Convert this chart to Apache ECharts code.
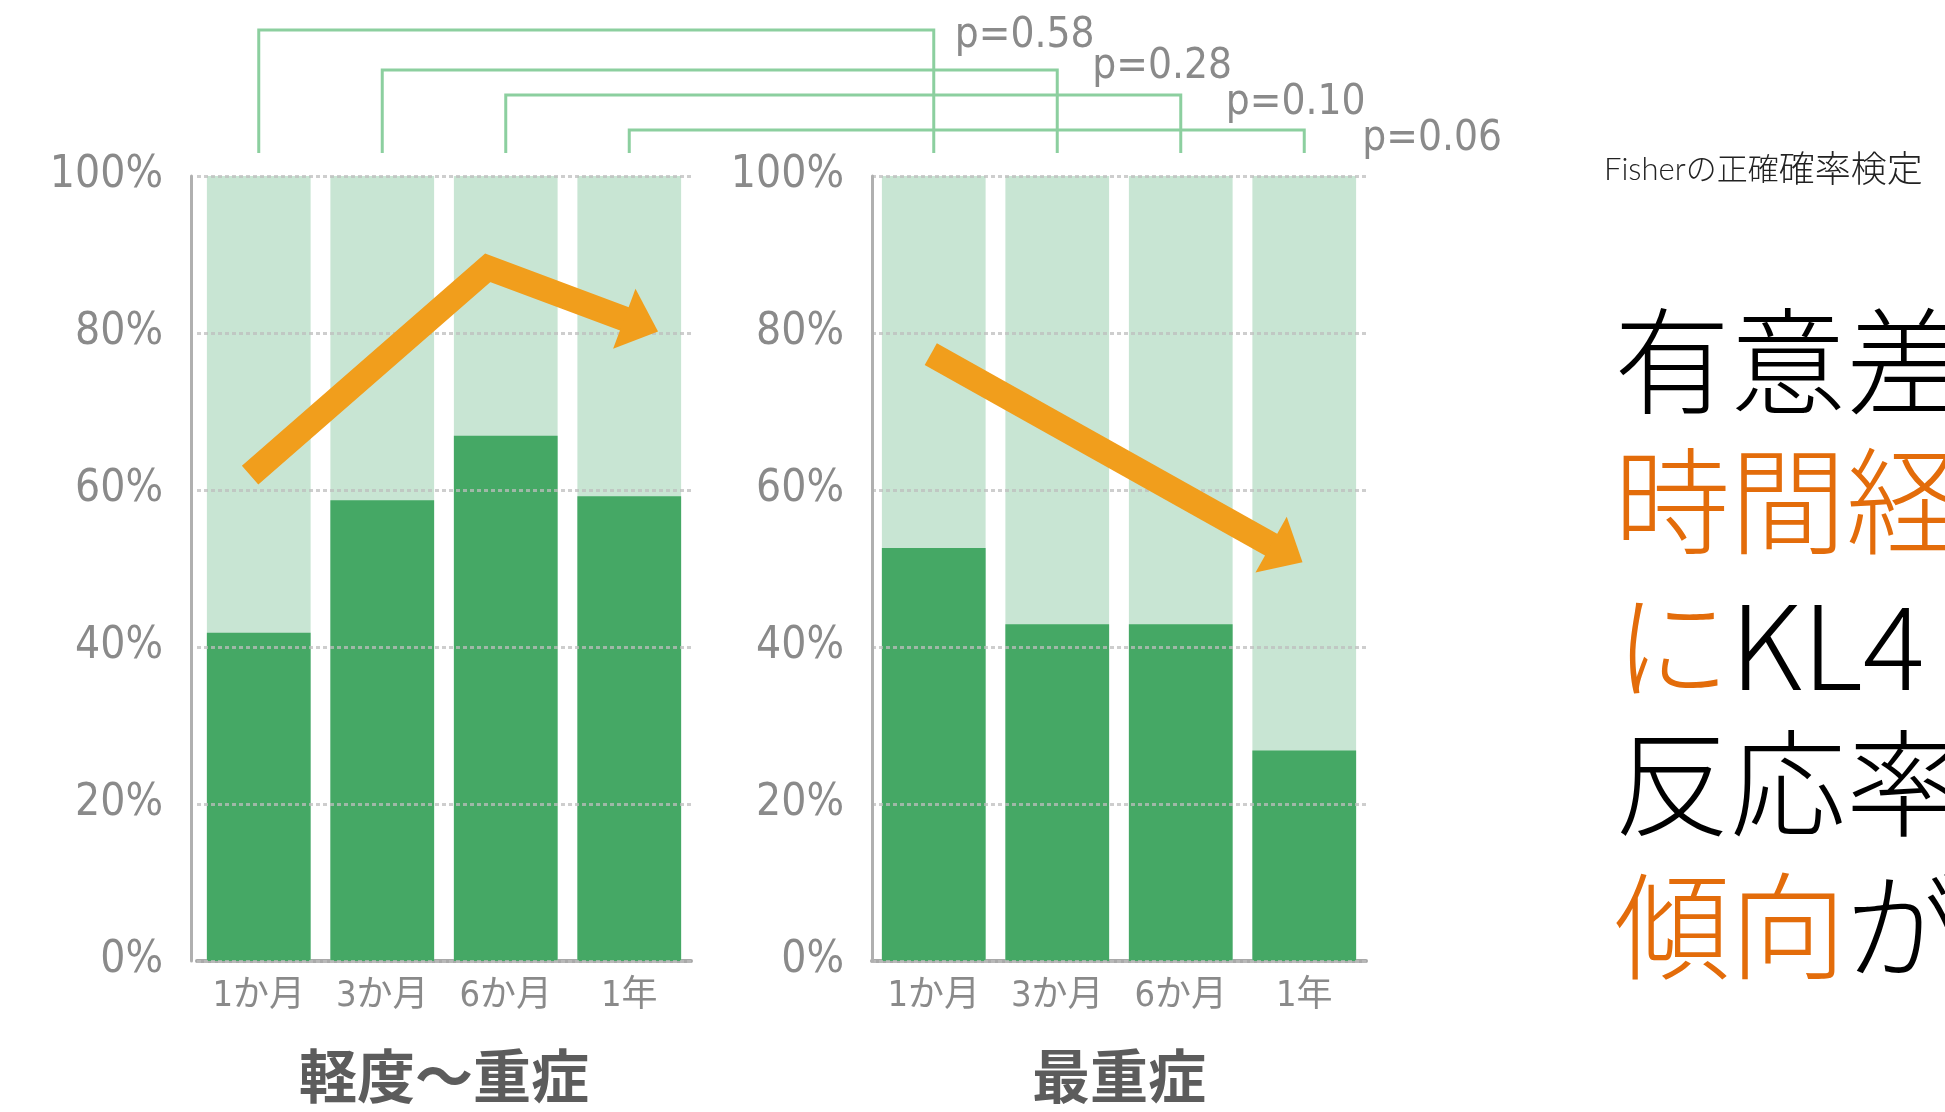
<!DOCTYPE html>
<html>
<head>
<meta charset="utf-8">
<style>html,body{margin:0;padding:0;background:#fff;}#c{width:1945px;height:1112px;}</style>
<script src="https://cdn.jsdelivr.net/npm/echarts@6/dist/echarts.min.js"></script>
</head>
<body>
<div id="c"></div>
<script>
// ---- data ----
const categories = ['1か月', '3か月', '6か月', '1年'];
const mildToSevere = [41.8, 58.7, 66.9, 59.2];   // 軽度～重症
const mostSevere = [52.6, 42.9, 42.9, 26.8];     // 最重症
const groupTitles = ['軽度～重症', '最重症'];
const pValues = ['p=0.58', 'p=0.28', 'p=0.10', 'p=0.06'];
// arrow annotation paths [category position, %]
const arrowMild = [[-0.07, 61.9], [1.854, 88.3], [3.233, 80.2]];
const arrowSevere = [[-0.024, 77.3], [2.986, 50.8]];
const noteParts = [['Fisherの正確', 's'], ['確率検定', 'b']];
const bigLines = [
  [['有意差', 'k']],
  [['時間経', 'o']],
  [['に', 'o'], ['KL4', 'k']],
  [['反応率', 'k']],
  [['傾向', 'o'], ['が', 'k']]
];

// ---- styles ----
const DARK = '#45a865', LIGHT = '#c8e5d3', ORANGE = '#f19e1c', GRAY = '#8a8a8a';
const NARROW = "'Liberation Sans Narrow','DejaVu Sans Condensed','Noto Sans CJK JP',sans-serif";
const CJK = "'Noto Sans CJK JP',sans-serif";
const LIGHTCJK = "'Noto Sans CJK JP Light','Noto Sans CJK JP',sans-serif";
const gridTop = 176, gridH = 785, gridW = 494;
const gridLefts = [197, 872];

const chart = echarts.init(document.getElementById('c'));

function arrowRenderer(pts) {
  return function (params, api) {
    if (params.dataIndex !== 0) return null;
    const p = pts.map(d => api.coord(d));
    const n = p.length;
    const tip = p[n - 1], prev = p[n - 2];
    const dx = tip[0] - prev[0], dy = tip[1] - prev[1];
    const len = Math.hypot(dx, dy);
    const ux = dx / len, uy = dy / len, nx = -uy, ny = ux;
    const HL = 36, HW = 64;
    const base = [tip[0] - ux * HL, tip[1] - uy * HL];
    const shaft = p.slice(0, n - 1).concat([[base[0] + ux * 3, base[1] + uy * 3]]);
    return {
      type: 'group',
      children: [
        { type: 'polyline', shape: { points: shaft },
          style: { stroke: ORANGE, lineWidth: 25, fill: 'none', lineJoin: 'miter', miterLimit: 10, lineCap: 'butt' } },
        { type: 'polygon', shape: { points: [tip, [base[0] + nx * HW / 2, base[1] + ny * HW / 2], [base[0] - nx * HW / 2, base[1] - ny * HW / 2]] },
          style: { fill: ORANGE } }
      ]
    };
  };
}

const grids = gridLefts.map(l => ({ left: l, top: gridTop, width: gridW, height: gridH }));
const xAxes = [];
const yAxes = [];
[0, 1].forEach(i => {
  xAxes.push({
    type: 'category', gridIndex: i, data: categories,
    axisLine: { onZero: false, lineStyle: { color: '#a9a9a9', width: 4 } },
    axisTick: { show: false },
    axisLabel: { color: GRAY, fontSize: 36, fontFamily: NARROW, margin: 18 },
    name: groupTitles[i], nameLocation: 'middle', nameGap: 86,
    nameTextStyle: { color: '#5c5c5c', fontSize: 58, fontWeight: 'bold', fontFamily: CJK }
  });
});
[0, 1].forEach(i => {
  xAxes.push({ type: 'value', gridIndex: i, min: -0.5, max: 3.5, show: false,
    axisLine: { onZero: false }, splitLine: { show: false } });
});
[0, 1].forEach(i => {
  yAxes.push({
    type: 'value', gridIndex: i, min: 0, max: 100, interval: 20, z: 5,
    offset: i === 0 ? 6 : 0,
    axisLine: { show: true, onZero: false, lineStyle: { color: '#b0b0b0', width: 3 } },
    axisTick: { show: false },
    axisLabel: { color: GRAY, fontSize: 44, fontFamily: NARROW, margin: 28, formatter: '{value}%' },
    splitLine: { show: true, lineStyle: { color: 'rgba(190,190,190,0.75)', width: 3, type: [4, 3] } }
  });
});

const option = {
  backgroundColor: '#fff',
  animation: false,
  grid: grids,
  xAxis: xAxes,
  yAxis: yAxes,
  series: [
    { type: 'bar', xAxisIndex: 0, yAxisIndex: 0, data: mildToSevere, barWidth: '84%',
      itemStyle: { color: DARK }, showBackground: true, backgroundStyle: { color: LIGHT } },
    { type: 'bar', xAxisIndex: 1, yAxisIndex: 1, data: mostSevere, barWidth: '84%',
      itemStyle: { color: DARK }, showBackground: true, backgroundStyle: { color: LIGHT } },
    { type: 'custom', xAxisIndex: 2, yAxisIndex: 0, data: arrowMild, clip: false, z: 10,
      renderItem: arrowRenderer(arrowMild) },
    { type: 'custom', xAxisIndex: 3, yAxisIndex: 1, data: arrowSevere, clip: false, z: 10,
      renderItem: arrowRenderer(arrowSevere) }
  ]
};
chart.setOption(option);

// ---- bracket annotations & side text ----
const bracketY = [30, 70, 95, 130];
const bracketBottom = 153;
const pOffsetX = [21, 35, 45, 58];
const pY = [36, 67, 103, 139];
const graphics = [];
categories.forEach((c, i) => {
  const lx = chart.convertToPixel({ xAxisIndex: 0 }, c);
  const rx = chart.convertToPixel({ xAxisIndex: 1 }, c);
  graphics.push({
    type: 'polyline', silent: true,
    shape: { points: [[lx, bracketBottom], [lx, bracketY[i]], [rx, bracketY[i]], [rx, bracketBottom]] },
    style: { stroke: '#8ccf9f', lineWidth: 3, fill: 'none' }
  });
  graphics.push({
    type: 'text', silent: true,
    style: { x: rx + pOffsetX[i], y: pY[i], text: pValues[i], fill: GRAY,
      fontSize: 42, fontFamily: NARROW, align: 'left', verticalAlign: 'middle',
      textAlign: 'left', textVerticalAlign: 'middle' }
  });
});
graphics.push({
  type: 'text', silent: true,
  style: { x: 1604, y: 170, text: noteParts.map(s => '{' + s[1] + '|' + s[0] + '}').join(''),
    rich: {
      s: { fill: '#222', fontSize: 31, fontWeight: 300, fontFamily: "Lato,'Noto Sans CJK JP',sans-serif" },
      b: { fill: '#222', fontSize: 36, fontWeight: 300, fontFamily: "Lato,'Noto Sans CJK JP',sans-serif" }
    },
    fontSize: 31, fontFamily: CJK,
    align: 'left', verticalAlign: 'middle', textAlign: 'left', textVerticalAlign: 'middle' }
});
const lineY = [361, 501, 646, 783, 926];
const richDef = {
  o: { fill: '#e36c0a', fontSize: 116, fontWeight: 300, fontFamily: LIGHTCJK },
  k: { fill: '#000', fontSize: 116, fontWeight: 300, fontFamily: LIGHTCJK }
};
bigLines.forEach((segs, i) => {
  graphics.push({
    type: 'text', silent: true,
    style: { x: 1614, y: lineY[i], text: segs.map(s => '{' + s[1] + '|' + s[0] + '}').join(''),
      rich: richDef, fontSize: 116, fontWeight: 300, fontFamily: LIGHTCJK,
      align: 'left', verticalAlign: 'middle', textAlign: 'left', textVerticalAlign: 'middle' }
  });
});
chart.setOption({ graphic: graphics });
</script>
</body>
</html>
